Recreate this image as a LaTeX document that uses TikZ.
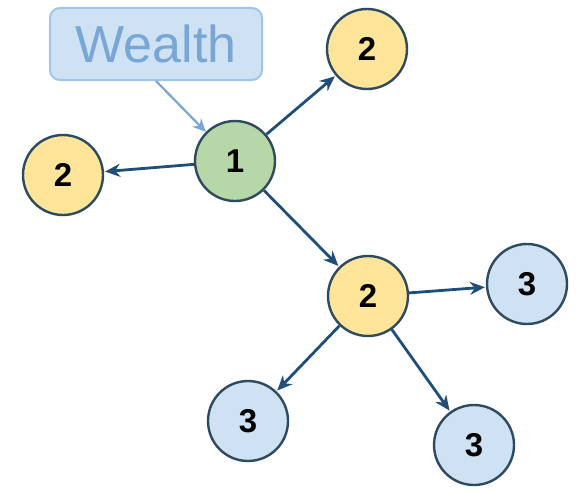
\documentclass[tikz,border=0pt]{standalone}
\usepackage{fontspec}
\setmainfont{Liberation Sans}
\usetikzlibrary{arrows.meta, positioning}
\definecolor{rootgreen}{HTML}{B6D7A8}
\definecolor{levelyellow}{HTML}{FFE599}
\definecolor{levelblue}{HTML}{CFE2F3}
\definecolor{nodeedge}{HTML}{2E4A5E}
\definecolor{linkblue}{HTML}{1F4E79}
\definecolor{tagedge}{HTML}{9FC5E8}
\definecolor{tagtext}{HTML}{78A6D6}
\tikzset{
    person/.style={circle, draw=nodeedge, line width=1.2pt, minimum size=40pt, inner sep=0pt, font=\fontsize{16.5}{16.5}\selectfont\bfseries},
    link/.style={-{Stealth[length=7.5pt, width=6.5pt]}, line width=1.4pt, draw=linkblue, shorten >=0.5pt},
    tag/.style={draw=tagedge, fill=levelblue, line width=1pt, rounded corners=5pt, minimum width=106pt, minimum height=36pt, text=tagtext, font=\fontsize{26}{26}\selectfont}
}
\begin{document}
\begin{tikzpicture}[x=0.5pt, y=-0.5pt]
    \useasboundingbox (0,0) rectangle (576,492);
    % Root and first level
    \node[person, fill=rootgreen] (root) at (235,161) {1};
    \node[person, fill=levelyellow] (topkid) at (367,49) {2};
    \node[person, fill=levelyellow] (leftkid) at (63,175) {2};
    \node[person, fill=levelyellow] (midkid) at (368,296) {2};
    % Second level
    \node[person, fill=levelblue] (rightgrand) at (527,284) {3};
    \node[person, fill=levelblue] (lowgrand) at (248,421) {3};
    \node[person, fill=levelblue] (lastgrand) at (474,445) {3};
    % Label
    \node[tag] (wealth) at (156,44) {Wealth};
    % Links
    \draw[link] (root) -- (topkid);
    \draw[link] (root) -- (leftkid);
    \draw[link] (root) -- (midkid);
    \draw[link] (midkid) -- (rightgrand);
    \draw[link] (midkid) -- (lowgrand);
    \draw[link] (midkid) -- (lastgrand);
    \draw[-{Stealth[length=6.5pt, width=6pt]}, line width=1.1pt, draw=tagtext] (wealth.south) -- (root.135);
\end{tikzpicture}
\end{document}
